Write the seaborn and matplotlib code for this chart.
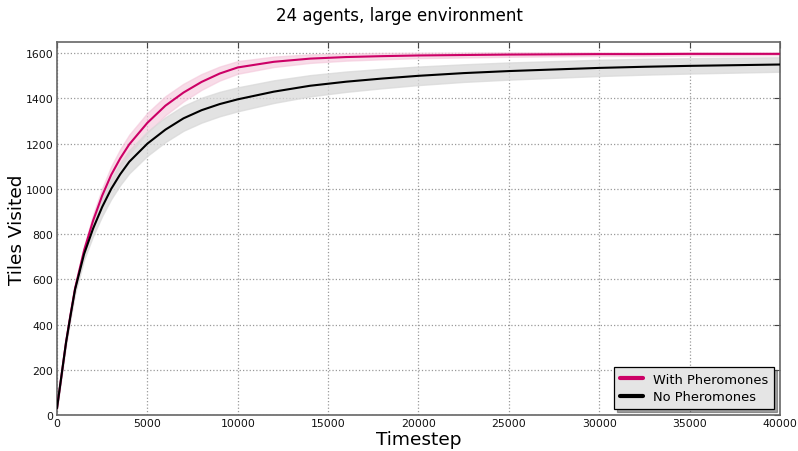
import numpy as np
import pandas as pd
import matplotlib
matplotlib.use("Agg")
import matplotlib.pyplot as plt
import seaborn as sns

# Mean tiles visited over time (24 agents, large environment)
timesteps = [0, 250, 500, 750, 1000, 1500, 2000, 2500, 3000, 3500, 4000, 5000,
             6000, 7000, 8000, 9000, 10000, 12000, 14000, 16000, 18000, 20000,
             22500, 25000, 27500, 30000, 32500, 35000, 37500, 40000]

with_pher_mean = [30, 175, 322, 445, 560, 728, 860, 970, 1062, 1135, 1197, 1292,
                  1368, 1426, 1473, 1510, 1537, 1562, 1576, 1583, 1587, 1590,
                  1592, 1594, 1595, 1596, 1596, 1597, 1597, 1597]
with_pher_spread = [0, 5, 8, 11, 14, 20, 27, 33, 38, 41, 43, 44,
                    42, 39, 35, 31, 28, 23, 19, 16, 14, 12,
                    11, 10, 9, 8, 8, 7, 7, 6]

no_pher_mean = [30, 175, 320, 440, 555, 712, 825, 920, 1000, 1065, 1120, 1200,
                1262, 1312, 1348, 1375, 1396, 1430, 1456, 1474, 1488, 1500,
                1512, 1521, 1528, 1535, 1540, 1544, 1547, 1550]
no_pher_spread = [0, 6, 10, 14, 18, 25, 33, 40, 45, 48, 51, 54,
                  55, 55, 55, 54, 53, 50, 47, 45, 43, 41,
                  39, 38, 37, 36, 35, 34, 33, 32]

series_labels = ["With Pheromones", "No Pheromones"]
series_colors = ["#cc0066", "#000000"]
band_colors = ["#f4c6da", "#d9d9d9"]
band_alphas = [0.6, 0.75]

sns.set_style("white", {
    "axes.edgecolor": "#666666",
    "grid.color": "#999999",
    "grid.linestyle": ":",
    "xtick.direction": "in",
    "ytick.direction": "in",
    "text.color": "black",
    "axes.labelcolor": "black",
})
plt.rcParams["font.family"] = ["DejaVu Sans"]

fig = plt.figure(figsize=(7.98, 4.52), dpi=100)
ax = fig.add_axes([0.0714, 0.0796, 0.9060, 0.8255])

means = [with_pher_mean, no_pher_mean]
spreads = [with_pher_spread, no_pher_spread]
x = np.array(timesteps)

for label, m, s, col, bcol, ba in zip(series_labels, means, spreads,
                                      series_colors, band_colors, band_alphas):
    m = np.array(m, dtype=float)
    s = np.array(s, dtype=float)
    ax.fill_between(x, m - s, m + s, facecolor=bcol, alpha=ba,
                    edgecolor=bcol, linewidth=1.0, zorder=1)
    df = pd.DataFrame({"Timestep": x, "Tiles Visited": m})
    sns.lineplot(data=df, x="Timestep", y="Tiles Visited", ax=ax, color=col,
                 linewidth=1.5, label=label, zorder=3)

ax.set_xlim(0, 40000)
ax.set_ylim(0, 1650)
ax.set_xticks(range(0, 40001, 5000))
ax.set_yticks(range(0, 1601, 200))
ax.tick_params(axis="both", labelsize=7.8, length=4, width=0.8, color="#444444",
               top=True, right=True, pad=2.5, labelcolor="#111111")
ax.grid(True, linestyle=":", color="#999999", linewidth=0.9)
for sp in ax.spines.values():
    sp.set_linewidth(1.2)
    sp.set_color("#666666")

ax.set_xlabel("Timestep", fontsize=13.3, labelpad=1)
ax.set_ylabel("Tiles Visited", fontsize=13.3, labelpad=-0.5)
fig.suptitle("24 agents, large environment", fontsize=12, y=0.985)

leg = ax.legend(loc="lower right", fancybox=False, shadow=True, frameon=True,
                facecolor="#e5e5e5", edgecolor="#000000", framealpha=1,
                fontsize=9.4, borderaxespad=0.45, handlelength=1.7,
                labelspacing=0.35, borderpad=0.45)
leg.get_frame().set_linewidth(0.9)
for h in leg.get_lines():
    h.set_linewidth(3)

fig.savefig("out.png", dpi=100)
